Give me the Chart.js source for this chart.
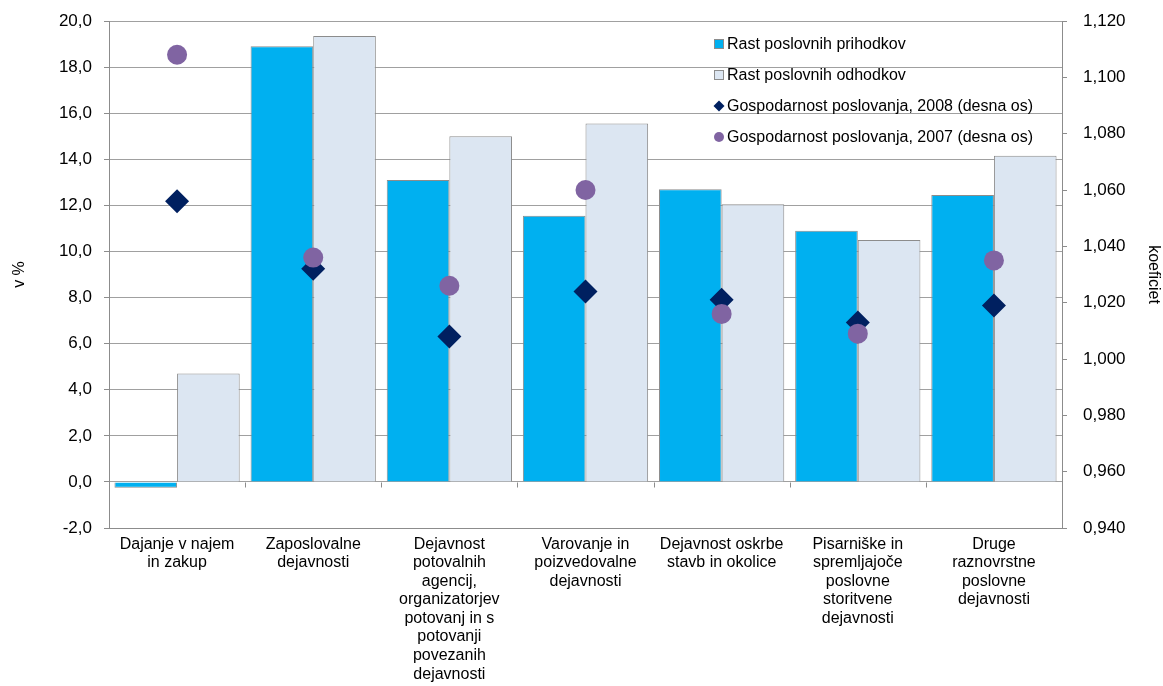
<!DOCTYPE html>
<html>
<head>
<meta charset="utf-8">
<script src="https://cdn.jsdelivr.net/npm/chart.js@4/dist/chart.umd.min.js"></script>
<style>
  html, body { margin: 0; padding: 0; background: #ffffff; }
  #wrap { width: 1163px; height: 686px; position: relative; }
</style>
</head>
<body>
<div id="wrap"><canvas id="c" width="1163" height="686"></canvas></div>
<script>
// ---- data ----
const categories = [
  ["Dajanje v najem", "in zakup"],
  ["Zaposlovalne", "dejavnosti"],
  ["Dejavnost", "potovalnih", "agencij,", "organizatorjev", "potovanj in s", "potovanji", "povezanih", "dejavnosti"],
  ["Varovanje in", "poizvedovalne", "dejavnosti"],
  ["Dejavnost oskrbe", "stavb in okolice"],
  ["Pisarniške in", "spremljajoče", "poslovne", "storitvene", "dejavnosti"],
  ["Druge", "raznovrstne", "poslovne", "dejavnosti"]
];
const seriesNames = [
  "Rast poslovnih prihodkov",
  "Rast poslovnih odhodkov",
  "Gospodarnost poslovanja, 2008 (desna os)",
  "Gospodarnost poslovanja, 2007 (desna os)"
];
const rastPrihodkov = [-0.25, 18.9, 13.1, 11.55, 12.7, 10.9, 12.45];
const rastOdhodkov  = [4.7, 19.35, 15.0, 15.55, 12.05, 10.5, 14.15];
const gospodarnost2008 = [1.056, 1.032, 1.008, 1.024, 1.021, 1.013, 1.019];
const gospodarnost2007 = [1.108, 1.036, 1.026, 1.060, 1.016, 1.009, 1.035];
const leftAxisTitle = "v %";
const rightAxisTitle = "koeficiet";

const FONT = "'Liberation Sans', Arial, sans-serif";
const GRID = "#a0a0a0";
const AXIS = "#8c8c8c";

// ---- plugins ----
const zeroTicks = {
  id: 'zeroTicks',
  afterDatasetsDraw(chart) {
    const x = chart.scales.x, y = chart.scales.y, ctx = chart.ctx;
    const y0 = Math.round(y.getPixelForValue(0)) + 0.5;
    ctx.save();
    ctx.strokeStyle = AXIS;
    ctx.lineWidth = 1;
    ctx.beginPath();
    for (let i = 1; i < categories.length; i++) {
      const px = Math.round((x.getPixelForValue(i - 1) + x.getPixelForValue(i)) / 2) + 0.5;
      ctx.moveTo(px, y0);
      ctx.lineTo(px, y0 + 5);
    }
    ctx.stroke();
    ctx.restore();
  }
};

const customLegend = {
  id: 'customLegend',
  afterDraw(chart) {
    const ctx = chart.ctx;
    const ds = chart.data.datasets;
    const items = [
      { i: 0, y: 44, kind: 'square' },
      { i: 1, y: 75, kind: 'square' },
      { i: 2, y: 106, kind: 'diamond' },
      { i: 3, y: 137, kind: 'circle' }
    ];
    const mx = 719, tx = 727;
    ctx.save();
    ctx.font = "16px " + FONT;
    ctx.textBaseline = 'middle';
    ctx.textAlign = 'left';
    items.forEach(it => {
      const d = ds.find(s => s.label === seriesNames[it.i]);
      ctx.beginPath();
      if (it.kind === 'square') {
        ctx.fillStyle = d.backgroundColor;
        ctx.fillRect(mx - 4.5, it.y - 4.5, 9, 9);
        ctx.strokeStyle = AXIS;
        ctx.lineWidth = 1;
        ctx.strokeRect(mx - 4.5, it.y - 4.5, 9, 9);
      } else if (it.kind === 'diamond') {
        ctx.fillStyle = d.backgroundColor;
        ctx.moveTo(mx, it.y - 5.5);
        ctx.lineTo(mx + 5.5, it.y);
        ctx.lineTo(mx, it.y + 5.5);
        ctx.lineTo(mx - 5.5, it.y);
        ctx.closePath();
        ctx.fill();
      } else {
        ctx.fillStyle = d.backgroundColor;
        ctx.arc(mx, it.y, 5, 0, Math.PI * 2);
        ctx.fill();
      }
      ctx.fillStyle = '#000';
      ctx.fillText(seriesNames[it.i], tx, it.y + 1);
    });
    ctx.restore();
  }
};

// ---- chart ----
Chart.defaults.font.family = FONT;
Chart.defaults.color = '#000';

new Chart(document.getElementById('c'), {
  type: 'bar',
  data: {
    labels: categories,
    datasets: [
      {
        type: 'line', label: seriesNames[3], data: gospodarnost2007, yAxisID: 'y2',
        showLine: false, pointStyle: 'circle', pointRadius: 10, pointHoverRadius: 10,
        backgroundColor: '#8064a2', borderColor: '#8064a2', borderWidth: 0, order: 0
      },
      {
        type: 'line', label: seriesNames[2], data: gospodarnost2008, yAxisID: 'y2',
        showLine: false, pointStyle: 'rectRot', pointRadius: 12, pointHoverRadius: 12,
        backgroundColor: '#002060', borderColor: '#002060', borderWidth: 0, order: 1
      },
      {
        label: seriesNames[0], data: rastPrihodkov, yAxisID: 'y',
        backgroundColor: '#00b0f0', borderColor: AXIS, borderWidth: 1,
        categoryPercentage: 0.92, barPercentage: 1.0, order: 2
      },
      {
        label: seriesNames[1], data: rastOdhodkov, yAxisID: 'y',
        backgroundColor: '#dce6f2', borderColor: AXIS, borderWidth: 1,
        categoryPercentage: 0.92, barPercentage: 1.0, order: 3
      }
    ]
  },
  options: {
    responsive: false,
    animation: false,
    devicePixelRatio: 1,
    layout: { padding: { top: 21, left: 0, right: 0, bottom: 0 } },
    plugins: {
      legend: { display: false },
      tooltip: { enabled: false }
    },
    scales: {
      x: {
        offset: true,
        grid: { display: true, drawOnChartArea: false, drawTicks: false, color: AXIS },
        border: { display: true, color: AXIS },
        ticks: {
          maxRotation: 0, minRotation: 0, autoSkip: false, padding: 7,
          font: { size: 16, lineHeight: 1.16 }, color: '#000'
        },
        afterFit(s) { s.height = 158; s.paddingLeft = 0; s.paddingRight = 0; }
      },
      y: {
        position: 'left',
        min: -2, max: 20,
        ticks: {
          stepSize: 2, padding: 12, font: { size: 17 }, color: '#000',
          callback: v => Number(v).toFixed(1).replace('.', ',')
        },
        grid: { color: GRID, tickLength: 5, tickColor: AXIS },
        border: { display: true, color: AXIS },
        title: { display: true, text: leftAxisTitle, font: { size: 16 }, padding: { top: 10, bottom: 0 } },
        afterFit(s) { s.width = 109; s.paddingTop = 0; s.paddingBottom = 0; }
      },
      y2: {
        position: 'right',
        min: 0.94, max: 1.12,
        ticks: {
          stepSize: 0.02, padding: 16, font: { size: 17 }, color: '#000',
          callback: v => Number(v).toFixed(3).replace('.', ',')
        },
        grid: { drawOnChartArea: false, tickLength: 5, color: AXIS },
        border: { display: true, color: AXIS },
        title: { display: true, text: rightAxisTitle, font: { size: 16 }, padding: { top: 0, bottom: 0 } },
        afterFit(s) { s.width = 101; s.paddingTop = 0; s.paddingBottom = 0; }
      }
    }
  },
  plugins: [zeroTicks, customLegend]
});
</script>
</body>
</html>
